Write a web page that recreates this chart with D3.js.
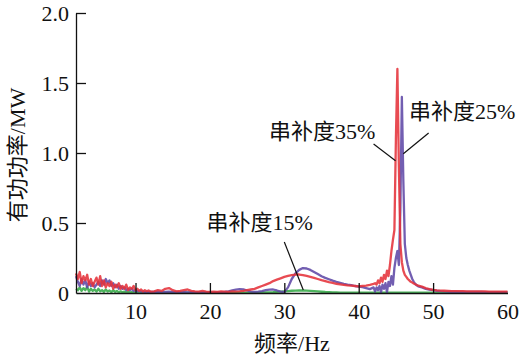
<!DOCTYPE html>
<html>
<head>
<meta charset="utf-8">
<script src="https://cdn.jsdelivr.net/npm/d3@7/dist/d3.min.js"></script>
<style>
html,body{margin:0;padding:0;background:#fff;}
svg{display:block;}
text{font-family:"Liberation Serif","Times New Roman","Noto Sans CJK SC",serif;fill:#111;}
</style>
</head>
<body>
<svg id="chart" width="520" height="360"></svg>
<script>
// ---------- data ----------
const freq = [
 2,2.25,2.5,2.75,3,3.25,3.5,3.75,4,4.25,4.5,4.75,5,5.25,5.5,5.75,6,6.25,6.5,6.75,
 7,7.25,7.5,7.75,8,8.25,8.5,8.75,9,9.25,9.5,9.75,10,10.25,10.5,10.75,11,11.25,11.5,11.75,12,
 12.5,13,13.5,14,14.5,15,15.5,16,16.5,17,17.5,18,18.5,19,19.5,20,20.5,21,21.5,22,
 22.5,23,23.5,24,24.5,25,25.5,26,26.5,27,27.5,28,28.5,29,29.5,30,30.5,31,31.5,32,
 32.5,33,33.5,34,34.5,35,35.5,36,36.5,37,37.5,38,38.5,39,39.5,40,40.5,41,41.5,42,
 42.2,42.4,42.6,42.8,43,43.2,43.4,43.6,43.8,44,44.2,44.4,44.6,44.8,45,45.2,45.4,45.6,45.8,46,
 46.2,46.4,46.6,46.8,47,47.2,47.4,47.6,47.8,48,
 48.5,49,49.5,50,50.5,51,51.5,52,52.5,53,53.5,54,54.5,55,55.5,56,56.5,57,57.5,58,58.5,59,59.5,60
];
// 串补度35% (red)
const red = [
 0.14,0.10,0.15,0.07,0.12,0.09,0.13,0.06,0.10,0.05,0.08,0.11,0.06,0.12,0.05,0.09,0.04,0.07,0.05,0.08,
 0.03,0.06,0.04,0.07,0.03,0.05,0.03,0.06,0.02,0.04,0.03,0.05,0.02,0.03,0.015,0.025,0.01,0.02,0.012,0.018,0.01,
 0.012,0.02,0.015,0.03,0.035,0.02,0.012,0.015,0.02,0.025,0.015,0.012,0.01,0.015,0.01,0.008,0.01,0.008,0.012,0.01,
 0.008,0.012,0.01,0.012,0.015,0.02,0.025,0.03,0.04,0.05,0.06,0.07,0.085,0.095,0.105,0.115,0.122,0.128,0.132,0.132,
 0.128,0.122,0.115,0.108,0.1,0.092,0.085,0.078,0.072,0.066,0.062,0.058,0.054,0.052,0.05,0.048,0.05,0.052,0.058,0.065,
 0.07,0.06,0.09,0.07,0.11,0.08,0.13,0.10,0.16,0.12,0.2,0.3,0.38,0.45,1.1,1.6,0.9,0.35,0.22,0.16,
 0.13,0.115,0.1,0.09,0.08,0.075,0.068,0.062,0.057,0.052,
 0.045,0.035,0.028,0.022,0.019,0.017,0.016,0.015,0.014,0.014,0.013,0.013,0.012,0.012,0.012,0.011,0.011,0.011,0.01,0.01,0.01,0.01,0.01,0.01
];
// 串补度25% (purple)
const purple = [
 0.12,0.08,0.05,0.10,0.06,0.09,0.04,0.08,0.05,0.07,0.04,0.06,0.08,0.05,0.09,0.06,0.1,0.07,0.09,0.05,
 0.07,0.04,0.06,0.03,0.05,0.03,0.04,0.02,0.03,0.02,0.03,0.015,0.02,0.012,0.015,0.01,0.012,0.008,0.01,0.008,0.008,
 0.008,0.01,0.006,0.008,0.01,0.006,0.008,0.005,0.006,0.005,0.006,0.005,0.005,0.004,0.005,0.004,0.005,0.005,0.006,0.008,
 0.012,0.018,0.024,0.028,0.026,0.018,0.01,0.008,0.01,0.014,0.02,0.024,0.025,0.018,0.01,0.006,0.04,0.1,0.14,0.165,
 0.178,0.175,0.165,0.15,0.135,0.12,0.108,0.098,0.088,0.08,0.073,0.066,0.06,0.056,0.05,0.046,0.042,0.035,0.028,0.04,
 0.01,0.04,0.02,0.05,0.005,0.06,0.03,0.07,0.005,0.08,0.05,0.12,0.06,0.18,0.25,0.3,0.2,0.6,1.4,0.8,
 0.35,0.25,0.2,0.16,0.13,0.1,0.08,0.065,0.055,0.048,
 0.04,0.03,0.025,0.02,0.016,0.013,0.011,0.01,0.009,0.009,0.008,0.008,0.008,0.007,0.007,0.007,0.007,0.006,0.006,0.006,0.006,0.006,0.006,0.006
];
// 串补度15% (green)
const green = [
 0.03,0.02,0.04,0.015,0.035,0.02,0.045,0.01,0.03,0.015,0.025,0.01,0.03,0.012,0.02,0.008,0.025,0.01,0.018,0.006,
 0.02,0.008,0.015,0.005,0.012,0.005,0.01,0.004,0.008,0.004,0.006,0.003,0.005,0.004,0.003,0.003,0.003,0.003,0.003,0.003,0.003,
 0.003,0.003,0.003,0.003,0.003,0.003,0.003,0.003,0.003,0.003,0.003,0.003,0.003,0.003,0.003,0.003,0.003,0.003,0.003,0.003,
 0.003,0.003,0.003,0.003,0.003,0.003,0.003,0.003,0.003,0.004,0.004,0.005,0.006,0.008,0.01,0.012,0.014,0.016,0.017,0.018,
 0.018,0.017,0.015,0.013,0.011,0.009,0.007,0.006,0.005,0.004,0.003,0.003,0.003,0.003,0.003,0.003,0.003,0.003,0.003,0.003,
 0.003,0.003,0.003,0.003,0.003,0.003,0.003,0.003,0.003,0.003,0.003,0.003,0.003,0.003,0.003,0.003,0.003,0.003,0.003,0.003,
 0.003,0.003,0.003,0.003,0.003,0.003,0.003,0.003,0.003,0.003,
 0.003,0.003,0.003,0.003,0.003,0.003,0.003,0.003,0.003,0.003,0.003,0.003,0.003,0.003,0.003,0.003,0.003,0.003,0.003,0.003,0.003,0.003,0.003,0.003
];
const xTicks = [10, 20, 30, 40, 50, 60];
const yTicks = [0, 0.5, 1.0, 1.5, 2.0];
const yTickLabels = ["0", "0.5", "1.0", "1.5", "2.0"];
const labels = ["串补度35%", "串补度25%", "串补度15%"];
const labelPos = [[35.1, 1.157], [53.9, 1.30], [26.7, 0.507]];      // text centre (Hz, MW)
const leaders = [[[42.0, 1.064], [44.95, 0.945]],
                 [[49.4, 1.143], [46.0, 0.995]],
                 [[30.0, 0.364], [32.55, 0.021]]];
const xTitle = "频率/Hz";
const yTitle = "有功功率/MW";

// ---------- chart ----------
const svg = d3.select("#chart");
const x = d3.scaleLinear().domain([2, 60]).range([76, 507.5]);
const y = d3.scaleLinear().domain([0, 2]).range([293, 13]);

const series = [
  {v: green, c: "#33a845"},
  {v: purple, c: "#5e48a6"},
  {v: red, c: "#e5323a"}
];
const line = d3.line().x((d, i) => x(freq[i])).y(d => y(d));
svg.append("g").selectAll("path").data(series).join("path")
  .attr("d", s => line(s.v))
  .attr("fill", "none")
  .attr("stroke", s => s.c)
  .attr("stroke-width", 2.3)
  .attr("stroke-opacity", 0.88)
  .attr("stroke-linejoin", "round");

// axes
const xAxis = svg.append("g").attr("transform", `translate(0,${y(0)})`)
  .call(d3.axisBottom(x).tickValues(xTicks).tickSizeInner(-10).tickSizeOuter(0).tickPadding(14).tickFormat(d3.format("d")));
xAxis.selectAll(".tick").filter(d => d === 60).select("line").remove();
const yAxis = svg.append("g").attr("transform", `translate(${x(2)},0)`)
  .call(d3.axisLeft(y).tickValues(yTicks).tickSizeInner(-10).tickSizeOuter(0).tickPadding(18).tickFormat((d, i) => yTickLabels[i]));
yAxis.selectAll(".tick").filter(d => d === 0).select("line").remove();
[xAxis, yAxis].forEach(a => {
  a.select(".domain").attr("stroke", "#111").attr("stroke-width", 1.3);
  a.selectAll(".tick line").attr("stroke", "#111").attr("stroke-width", 1.3);
  a.selectAll("text").attr("font-size", 22).attr("font-family", "Liberation Serif").attr("fill", "#111");
});
xAxis.selectAll("text").attr("dy", "0.71em").attr("y", 10);
yAxis.selectAll("text").attr("x", -7);

// leader lines
svg.append("g").selectAll("line").data(leaders).join("line")
  .attr("x1", d => x(d[0][0])).attr("y1", d => y(d[0][1]))
  .attr("x2", d => x(d[1][0])).attr("y2", d => y(d[1][1]))
  .attr("stroke", "#111").attr("stroke-width", 1.2);

// annotation labels
svg.append("g").selectAll("text").data(labels).join("text")
  .attr("x", (d, i) => x(labelPos[i][0]))
  .attr("y", (d, i) => y(labelPos[i][1]))
  .attr("text-anchor", "middle").attr("dominant-baseline", "central")
  .attr("font-size", 22).text(d => d);

// axis titles
svg.append("text").attr("x", 292).attr("y", 343)
  .attr("text-anchor", "middle").attr("dominant-baseline", "central")
  .attr("font-size", 22).text(xTitle);
svg.append("text").attr("transform", "translate(17,155) rotate(-90)")
  .attr("text-anchor", "middle").attr("dominant-baseline", "central")
  .attr("font-size", 22).text(yTitle);
</script>
</body>
</html>
